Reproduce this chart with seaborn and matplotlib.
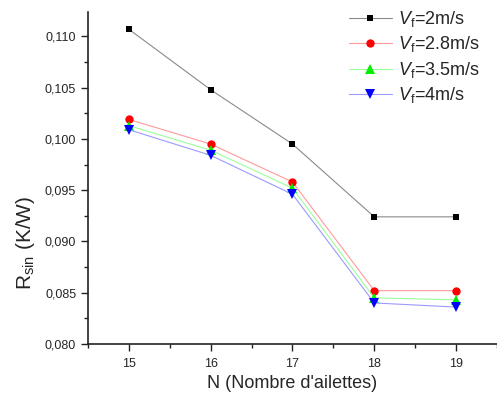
import numpy as np
import pandas as pd
import matplotlib
matplotlib.use("Agg")
import matplotlib.pyplot as plt
import seaborn as sns
from matplotlib.ticker import FuncFormatter, MultipleLocator

# ---- data ----
n_fins = [15, 16, 17, 18, 19]
r_v2 = [0.1107, 0.1048, 0.0995, 0.0924, 0.0924]
r_v28 = [0.1019, 0.0995, 0.0958, 0.0852, 0.0852]
r_v35 = [0.1013, 0.0989, 0.0952, 0.0845, 0.0843]
r_v4 = [0.1009, 0.0984, 0.0946, 0.0840, 0.0836]
series_labels = [r"$V_{\mathrm{f}}$=2m/s", r"$V_{\mathrm{f}}$=2.8m/s",
                 r"$V_{\mathrm{f}}$=3.5m/s", r"$V_{\mathrm{f}}$=4m/s"]
y_ticks = [0.080, 0.085, 0.090, 0.095, 0.100, 0.105, 0.110]

series = [r_v2, r_v28, r_v35, r_v4]
df = pd.DataFrame({
    "N": np.tile(n_fins, len(series)),
    "R": np.concatenate(series),
    "serie": np.repeat(series_labels, len(n_fins)),
})

sns.set_theme(style="ticks")
plt.rcParams["font.family"] = ["Liberation Sans", "DejaVu Sans"]
plt.rcParams["mathtext.fontset"] = "custom"
plt.rcParams["mathtext.rm"] = "Liberation Sans"
plt.rcParams["mathtext.it"] = "Liberation Sans:italic"

marker_colors = ["#000000", "#ff0000", "#00ee00", "#0000ff"]
line_colors = ["#8a8a8a", "#ff9a9a", "#9aff9a", "#9a9aff"]
markers = ["s", "o", "^", "v"]
msizes = [5, 6, 6.5, 6.5]

fig = plt.figure(figsize=(4.97, 3.94), dpi=100)
ax = fig.add_axes([0.177, 0.127, 0.823, 0.843])

sns.lineplot(data=df, x="N", y="R", hue="serie", style="serie",
             hue_order=series_labels, style_order=series_labels,
             palette=marker_colors, markers=markers, dashes=False,
             markersize=6, linewidth=0.8, markeredgewidth=0,
             legend=False, ax=ax)

for line, mc, lc, ms in zip(ax.lines, marker_colors, line_colors, msizes):
    line.set_color(lc)
    line.set_markerfacecolor(mc)
    line.set_markeredgecolor(mc)
    line.set_markersize(ms)

ax.set_xlim(14.5, 19.5)
ax.set_ylim(0.080, 0.1124)
ax.set_xticks(n_fins)
ax.xaxis.set_minor_locator(MultipleLocator(0.5))
ax.set_yticks(y_ticks)
ax.yaxis.set_minor_locator(MultipleLocator(0.0025))
ax.yaxis.set_major_formatter(FuncFormatter(lambda v, p: f"{v:.3f}".replace(".", ",")))
ax.tick_params(axis="both", which="major", direction="out", length=5, width=1,
               labelsize=9, color="#222222")
ax.tick_params(axis="x", which="major", pad=5)
ax.tick_params(axis="both", which="minor", direction="out", length=3, width=1,
               color="#222222")
for s in ["top", "right"]:
    ax.spines[s].set_visible(False)
for s in ["left", "bottom"]:
    ax.spines[s].set_linewidth(1.2)
    ax.spines[s].set_color("#222222")

ax.set_xlabel("N (Nombre d'ailettes)", fontsize=13, labelpad=4)
ax.set_ylabel(r"R$_{\mathrm{sin}}$ (K/W)", fontsize=15)
ax.yaxis.set_label_coords(-0.124, 0.304)

ax.legend(ax.lines, series_labels, loc="upper left", bbox_to_anchor=(0.62, 1.03),
          frameon=False, fontsize=13, handlelength=2.4, handletextpad=0.3,
          labelspacing=0.3, borderaxespad=0.0)

fig.savefig("out.png", dpi=100)
